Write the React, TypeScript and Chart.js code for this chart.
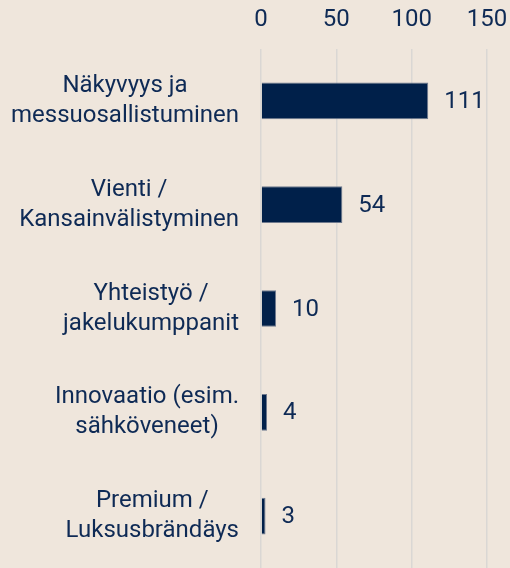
import React, { useEffect, useRef } from "react";
import { Chart, registerables } from "chart.js";

Chart.register(...registerables);

const categories: string[][] = [
  ["Näkyvyys ja", "messuosallistuminen"],
  ["Vienti /", "Kansainvälistyminen"],
  ["Yhteistyö /", "jakelukumppanit"],
  ["Innovaatio (esim.", "sähköveneet)"],
  ["Premium /", "Luksusbrändäys"],
];
const values: number[] = [111, 54, 10, 4, 3];
const xTicks: number[] = [0, 50, 100, 150];

const BG = "#EFE6DC";
const BAR = "#00204A";
const BAR_EDGE = "#6F7A8E";
const TEXT = "#0E2A55";
const GRID = "#DAD7D4";
const FONT = "Roboto, 'Noto Sans', sans-serif";
const FS = 24;

const bgPlugin = {
  id: "bg",
  beforeDraw(chart: any) {
    const { ctx, width, height } = chart;
    ctx.save();
    ctx.fillStyle = BG;
    ctx.fillRect(0, 0, width, height);
    ctx.restore();
  },
};

const yLabelPlugin = {
  id: "yLabels",
  afterDraw(chart: any) {
    const { ctx } = chart;
    const y = chart.scales.y;
    const rightEdge = chart.chartArea.left - 22;
    const lh = 30;
    ctx.save();
    ctx.font = `${FS}px ${FONT}`;
    ctx.fillStyle = TEXT;
    ctx.textAlign = "center";
    ctx.textBaseline = "middle";
    categories.forEach((lines, i) => {
      const cy = y.getPixelForValue(i);
      const w = Math.max(...lines.map((l) => ctx.measureText(l).width));
      const cx = rightEdge - w / 2;
      const top = cy - ((lines.length - 1) * lh) / 2;
      lines.forEach((l, j) => ctx.fillText(l, cx, top + j * lh));
    });
    ctx.restore();
  },
};

const valueLabelPlugin = {
  id: "valueLabels",
  afterDatasetsDraw(chart: any) {
    const { ctx } = chart;
    const meta = chart.getDatasetMeta(0);
    ctx.save();
    ctx.font = `${FS}px ${FONT}`;
    ctx.fillStyle = TEXT;
    ctx.textAlign = "left";
    ctx.textBaseline = "middle";
    meta.data.forEach((bar: any, i: number) => {
      ctx.fillText(String(values[i]), bar.x + 16, bar.y + 1);
    });
    ctx.restore();
  },
};

export default function App() {
  const ref = useRef<HTMLCanvasElement | null>(null);
  useEffect(() => {
    document.body.style.margin = "0";
    const chart = new Chart(ref.current!, {
      type: "bar",
      data: {
        labels: categories.map((c) => c.join(" ")),
        datasets: [
          {
            data: values,
            backgroundColor: BAR,
            borderColor: BAR_EDGE,
            borderWidth: 1,
            barPercentage: 0.354,
            categoryPercentage: 1,
          },
        ],
      },
      options: {
        indexAxis: "y",
        animation: false,
        responsive: false,
        maintainAspectRatio: false,
        layout: { padding: { left: 0, right: 23, top: 0, bottom: -3 } },
        plugins: { legend: { display: false }, tooltip: { enabled: false } },
        scales: {
          x: {
            position: "top",
            min: 0,
            max: 150,
            afterBuildTicks: (s: any) => {
              s.ticks = xTicks.map((v) => ({ value: v }));
            },
            afterFit: (s: any) => {
              s.height = 49;
              s.paddingLeft = 0;
              s.paddingRight = 0;
            },
            border: { display: false },
            grid: { color: GRID, lineWidth: 1.5, drawTicks: false },
            ticks: {
              color: TEXT,
              font: { family: FONT, size: FS },
              padding: 15,
            },
          },
          y: {
            afterFit: (s: any) => {
              s.width = 261;
            },
            border: { display: false },
            grid: { display: false },
            ticks: { display: false },
          },
        },
      },
      plugins: [bgPlugin, yLabelPlugin, valueLabelPlugin],
    } as any);
    return () => chart.destroy();
  }, []);
  return <canvas ref={ref} width={510} height={568} style={{ display: "block" }} />;
}
